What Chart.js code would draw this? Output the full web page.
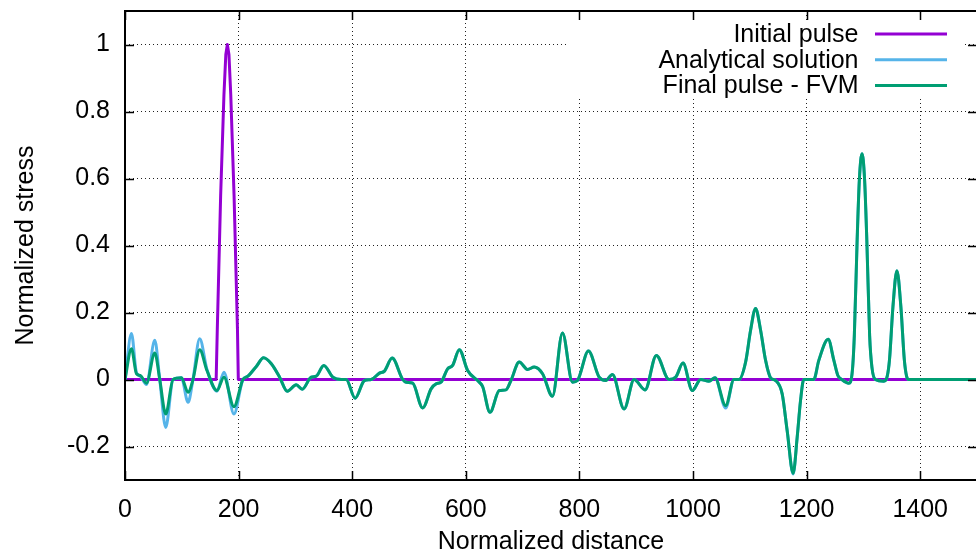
<!DOCTYPE html>
<html>
<head>
<meta charset="utf-8">
<script src="https://cdn.jsdelivr.net/npm/chart.js@4"></script>
<style>
  html, body { margin: 0; padding: 0; background: #fff; overflow: hidden; }
  canvas { display: block; }
</style>
</head>
<body>
<canvas id="pulseChart" width="980" height="557"></canvas>
<script>
// Normalized distance sampled along the bar (shared by both final curves)
const distance = [
  0, 11.4, 20.2, 27, 37.8, 52.4, 61.2, 71.7, 84.6, 99.3,
  111, 119.7, 131.5, 144.3, 161.9, 174.2, 191.8, 207.6, 216.4, 231.2,
  244, 257.6, 272.2, 285.7, 301.5, 312, 327.9, 336.7, 350, 365.9,
  380.6, 389.4, 405.2, 421.6, 433.4, 448, 456.8, 470.3, 488.9, 494.9,
  506.5, 524.1, 538.9, 547.6, 556.4, 568, 576.8, 588.6, 603.2, 623.8,
  629.6, 642.6, 658.9, 670.7, 679.5, 694.1, 708.7, 720.5, 735.1, 752.6,
  770.2, 787.8, 796.6, 815.9, 834.7, 846.5, 858.1, 878.7, 896.3, 915.6,
  935.5, 957.8, 969.6, 982.4, 998.8, 1013.5, 1028.1, 1038.7, 1057.5, 1072.1,
  1080.9, 1092.6, 1101.4, 1110.2, 1119, 1127.8, 1136.6, 1145.4, 1157, 1165.8,
  1176.3, 1183.4, 1189.3, 1195.1, 1212.7, 1221.5, 1238, 1248, 1255, 1262,
  1274.3, 1280, 1284, 1289, 1293, 1297.6, 1302, 1306, 1311, 1315,
  1321, 1336, 1342, 1346, 1352, 1359, 1366, 1372, 1376, 1380,
  1500
];

const fvmStress = [
  0, 0.092, 0.017, 0.012, -0.011, 0.079, 0, -0.103, 0, 0.005,
  -0.038, 0, 0.089, 0.027, -0.033, 0.007, -0.081, 0, 0.01, 0.039,
  0.065, 0.047, 0.007, -0.035, -0.016, -0.029, 0.007, 0.01, 0.042, 0.007,
  0, 0, -0.056, -0.003, 0, 0.019, 0.025, 0.064, 0, -0.008,
  -0.011, -0.085, -0.028, -0.013, -0.008, 0.032, 0.042, 0.089, 0.027, -0.008,
  -0.021, -0.098, -0.033, -0.031, -0.003, 0.052, 0.03, 0.037, 0.017, -0.05,
  0.139, -0.008, -0.003, 0.085, 0.007, -0.003, 0.015, -0.088, 0, -0.031,
  0.072, 0, 0.007, 0.049, -0.033, 0, -0.005, 0.005, -0.078, 0,
  0, 0.052, 0.147, 0.212, 0.147, 0.057, 0.005, -0.003, -0.043, -0.153,
  -0.28, -0.173, -0.063, 0, 0, 0.057, 0.12, 0.057, 0.012, 0,
  -0.011, 0.017, 0.13, 0.417, 0.6, 0.674, 0.6, 0.417, 0.13, 0.037,
  0, -0.005, 0.01, 0.06, 0.217, 0.325, 0.217, 0.06, 0.01, 0,
  0
];

const analyticStress = [
  0, 0.137, 0.02, 0.01, -0.015, 0.117, 0, -0.143, 0, 0.005,
  -0.068, 0, 0.122, 0.03, -0.035, 0.022, -0.103, 0, 0.01, 0.039,
  0.065, 0.047, 0.007, -0.035, -0.016, -0.029, 0.007, 0.01, 0.042, 0.007,
  0, 0, -0.056, -0.003, 0, 0.019, 0.025, 0.064, 0, -0.008,
  -0.011, -0.085, -0.028, -0.013, -0.008, 0.032, 0.042, 0.089, 0.027, -0.008,
  -0.021, -0.098, -0.033, -0.031, -0.003, 0.052, 0.03, 0.037, 0.017, -0.05,
  0.139, -0.008, -0.003, 0.085, 0.007, -0.003, 0.015, -0.088, 0, -0.031,
  0.072, 0, 0.007, 0.049, -0.033, 0, -0.005, 0.005, -0.085, 0,
  0, 0.052, 0.147, 0.212, 0.147, 0.057, 0.005, -0.003, -0.043, -0.153,
  -0.282, -0.173, -0.063, 0, 0, 0.057, 0.12, 0.057, 0.012, 0,
  -0.011, 0.017, 0.13, 0.417, 0.6, 0.674, 0.6, 0.417, 0.13, 0.037,
  0, -0.005, 0.01, 0.06, 0.217, 0.325, 0.217, 0.06, 0.01, 0,
  0
];

// Initial pulse
const pulseX = [0, 160.5, 162.5, 168.4, 174.2, 177.5, 180.2, 183, 186.2, 192, 198, 199.5, 1500];
const pulseY = [0, 0, 0.15, 0.55, 0.85, 0.97, 1, 0.97, 0.85, 0.55, 0.15, 0, 0];

const xTicks = [0, 200, 400, 600, 800, 1000, 1200, 1400];
const yTicks = [-0.2, 0, 0.2, 0.4, 0.6, 0.8, 1];

const toPoints = (xs, ys) => xs.map((x, i) => ({ x: x, y: ys[i] }));

Chart.defaults.font.family = "'Liberation Sans', Arial, sans-serif";
Chart.defaults.font.size = 25;
Chart.defaults.color = '#000';

// gnuplot style frame, inward tick marks and opaque key
const gnuFrame = {
    id: 'gnuFrame',
    afterDatasetsDraw(chart) {
        const { ctx, chartArea: a, scales } = chart;
        ctx.save();

        // key
        const boxRight = a.right - 15;
        const boxLeft = a.left + 444;
        ctx.fillStyle = '#fff';
        ctx.fillRect(boxLeft, a.top + 11, boxRight - boxLeft, 75);
        ctx.font = "25px 'Liberation Sans', Arial, sans-serif";
        ctx.textAlign = 'right';
        ctx.textBaseline = 'middle';
        chart.data.datasets.forEach((ds, i) => {
            const rowY = a.top + 23 + i * 25.8;
            ctx.fillStyle = '#000';
            ctx.fillText(ds.label, a.right - 118.5, rowY + 1);
            ctx.strokeStyle = ds.borderColor;
            ctx.lineWidth = 3;
            ctx.beginPath();
            ctx.moveTo(a.right - 102, rowY);
            ctx.lineTo(a.right - 30, rowY);
            ctx.stroke();
        });

        // border
        ctx.strokeStyle = '#000';
        ctx.lineWidth = 2;
        ctx.strokeRect(a.left, a.top, a.right - a.left, a.bottom - a.top);

        // ticks on all four sides
        ctx.lineWidth = 1.5;
        ctx.beginPath();
        xTicks.forEach(v => {
            const px = Math.round(scales.x.getPixelForValue(v)) + 0.5;
            ctx.moveTo(px, a.bottom);
            ctx.lineTo(px, a.bottom - 9);
            ctx.moveTo(px, a.top);
            ctx.lineTo(px, a.top + 9);
        });
        yTicks.forEach(v => {
            const py = Math.round(scales.y.getPixelForValue(v)) + 0.5;
            ctx.moveTo(a.left, py);
            ctx.lineTo(a.left + 9, py);
            ctx.moveTo(a.right, py);
            ctx.lineTo(a.right - 9, py);
        });
        ctx.stroke();
        ctx.restore();
    }
};

const ctx = document.getElementById('pulseChart').getContext('2d');

new Chart(ctx, {
    type: 'line',
    data: {
        datasets: [{
            label: 'Initial pulse',
            data: toPoints(pulseX, pulseY),
            borderColor: '#9400D3',
            borderWidth: 3,
            tension: 0,
            order: 2
        }, {
            label: 'Analytical solution',
            data: toPoints(distance, analyticStress),
            borderColor: '#56B4E9',
            borderWidth: 3,
            cubicInterpolationMode: 'monotone',
            order: 1
        }, {
            label: 'Final pulse - FVM',
            data: toPoints(distance, fvmStress),
            borderColor: '#009E73',
            borderWidth: 3,
            cubicInterpolationMode: 'monotone',
            order: 0
        }]
    },
    options: {
        responsive: false,
        animation: false,
        events: [],
        elements: {
            point: { radius: 0 },
            line: { borderJoinStyle: 'round', borderCapStyle: 'round' }
        },
        layout: {
            padding: { left: 0, right: 3, top: 11, bottom: 0 }
        },
        plugins: {
            legend: { display: false },
            tooltip: { enabled: false }
        },
        scales: {
            x: {
                type: 'linear',
                min: 0,
                max: 1500,
                afterBuildTicks: (scale) => { scale.ticks = xTicks.map(v => ({ value: v })); },
                afterFit: (scale) => {
                    scale.height = 77;
                    scale.paddingLeft = 0;
                    scale.paddingRight = 0;
                },
                grid: { color: '#222', lineWidth: 1, drawTicks: false },
                border: { display: false, dash: [1, 3] },
                ticks: {
                    padding: 15,
                    maxRotation: 0,
                    autoSkip: false,
                    callback: (value) => String(value)
                },
                title: {
                    display: true,
                    text: 'Normalized distance',
                    font: { size: 25 },
                    padding: { top: 0, bottom: 0 }
                }
            },
            y: {
                min: -0.3,
                max: 1.1,
                afterBuildTicks: (scale) => { scale.ticks = yTicks.map(v => ({ value: v })); },
                afterFit: (scale) => {
                    scale.width = 125;
                    scale.paddingTop = 0;
                    scale.paddingBottom = 0;
                },
                grid: { color: '#222', lineWidth: 1, drawTicks: false },
                border: { display: false, dash: [1, 3] },
                ticks: {
                    padding: 15,
                    autoSkip: false,
                    callback: (value) => String(value)
                },
                title: {
                    display: true,
                    text: 'Normalized stress',
                    font: { size: 25 },
                    padding: { top: 11, bottom: 0 }
                }
            }
        }
    },
    plugins: [gnuFrame]
});
</script>
</body>
</html>
